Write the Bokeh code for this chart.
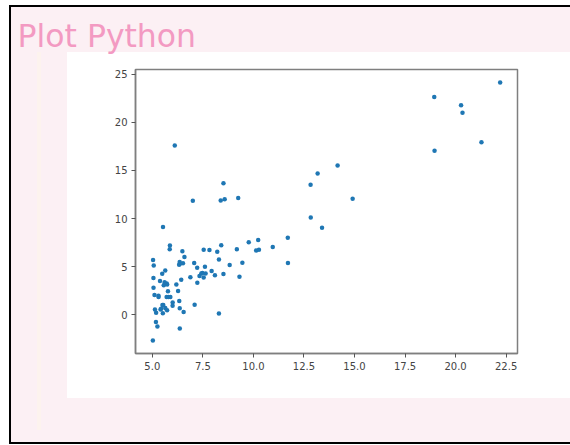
from bokeh.plotting import figure
from bokeh.models import FixedTicker, Range1d, ColumnDataSource
from bokeh.embed import file_html
from bokeh.resources import INLINE

# Population of city (10,000s) vs profit (10,000$)
population = [6.1101, 5.5277, 8.5186, 7.0032, 5.8598, 8.3829, 7.4764, 8.5781, 6.4862, 5.0546,
              5.7107, 14.164, 5.734, 8.4084, 5.6407, 5.3794, 6.3654, 5.1301, 6.4296, 7.0708,
              6.1891, 20.27, 5.4901, 6.3261, 5.5649, 18.945, 12.828, 10.957, 13.176, 22.203,
              5.2524, 6.5894, 9.2482, 5.8918, 8.2111, 7.9334, 8.0959, 5.6063, 12.836, 6.3534,
              5.4069, 6.8825, 11.708, 5.7737, 7.8247, 7.0931, 5.0702, 5.8014, 11.7, 5.5416,
              7.5402, 5.3077, 7.4239, 7.6031, 6.3328, 6.3589, 6.2742, 5.6397, 9.3102, 9.4536,
              8.8254, 5.1793, 21.279, 14.908, 18.959, 7.2182, 8.2951, 10.236, 5.4994, 20.341,
              10.136, 7.3345, 6.0062, 7.2259, 5.0269, 6.5479, 7.5386, 5.0365, 10.274, 5.1077,
              5.7292, 5.1884, 6.3557, 9.7687, 6.5159, 8.5172, 9.1802, 6.002, 5.5204, 5.0594,
              5.7077, 7.6366, 5.8707, 5.3054, 8.2934, 13.394, 5.4369]
profit = [17.592, 9.1302, 13.662, 11.854, 6.8233, 11.886, 4.3483, 12.0, 6.5987, 3.8166,
          3.2522, 15.505, 3.1551, 7.2258, 0.71618, 3.5129, 5.3048, 0.56077, 3.6518, 5.3893,
          3.1386, 21.767, 4.263, 5.1875, 3.0825, 22.638, 13.501, 7.0467, 14.692, 24.147,
          -1.22, 5.9966, 12.134, 1.8495, 6.5426, 4.5623, 4.1164, 3.3928, 10.117, 5.4974,
          0.55657, 3.9115, 5.3854, 2.4406, 6.7318, 1.0463, 5.1337, 1.844, 8.0043, 1.0179,
          6.7504, 1.8396, 4.2885, 4.9981, 1.4233, -1.4211, 2.4756, 4.6042, 3.9624, 5.4141,
          5.1694, -0.74279, 17.929, 12.054, 17.054, 4.8852, 5.7442, 7.7754, 1.0173, 20.992,
          6.6799, 4.0259, 1.2784, 3.3411, -2.6807, 0.29678, 3.8845, 5.7014, 6.7526, 2.0576,
          0.47953, 0.20421, 0.67861, 7.5435, 5.3436, 4.2415, 6.7981, 0.92695, 0.152, 2.8214,
          1.8451, 4.2959, 7.2029, 1.9869, 0.14454, 9.0551, 0.61705]

x_ticks = [5.0, 7.5, 10.0, 12.5, 15.0, 17.5, 20.0, 22.5]
y_ticks = [0, 5, 10, 15, 20, 25]
title_text = "Plot Python"

# matplotlib-style 5% margins
xmin, xmax = min(population), max(population)
ymin, ymax = min(profit), max(profit)
xm = 0.05 * (xmax - xmin)
ym = 0.05 * (ymax - ymin)

PINK = "#fcf0f4"
STRIP = "#fdf3ee"
W, H = 570, 445

p = figure(width=W, height=H, output_backend="svg", toolbar_location=None,
           x_range=Range1d(xmin - xm, xmax + xm), y_range=Range1d(ymin - ym, ymax + ym),
           min_border_left=135, min_border_right=53, min_border_top=69, min_border_bottom=92,
           title=title_text)

# page decoration behind a transparent canvas: border, pink panel, strip, white picture area
p.border_fill_color = None
p.background_fill_color = "white"
p.styles = {
    "background-color": "white",
    "background-image": ", ".join(["linear-gradient(black, black)"] * 3 + [
        "linear-gradient(white, white)",
        f"linear-gradient({STRIP}, {STRIP})",
        f"linear-gradient({PINK}, {PINK})"]),
    "background-size": "561px 2px, 2px 439px, 561px 2px, 503px 346px, 4px 378px, 559px 435px",
    "background-position": "9px 5px, 9px 5px, 9px 442px, 67px 52px, 37px 52px, 11px 7px",
    "background-repeat": "no-repeat",
}

p.title.text_font = "DejaVu Sans"
p.title.text_font_size = "31.5px"
p.title.text_font_style = "normal"
p.title.text_color = "#f39ac2"
p.title.align = "left"
p.title.offset = -118
p.title.standoff = 31

p.outline_line_color = "#7f7f7f"
p.outline_line_width = 1.5
p.grid.visible = False

src = ColumnDataSource(dict(x=population, y=profit))
p.scatter("x", "y", source=src, size=4.5, fill_color="#1f77b4", line_color=None)

for ax in (p.xaxis[0], p.yaxis[0]):
    ax.axis_line_color = "#7f7f7f"
    ax.axis_line_width = 1.5
    ax.major_tick_line_color = "#555555"
    ax.major_tick_in = 0
    ax.major_tick_out = 4
    ax.minor_tick_line_color = None
    ax.major_label_text_font = "DejaVu Sans"
    ax.major_label_text_font_size = "10px"
    ax.major_label_text_color = "#444444"
    ax.major_label_standoff = 4

p.xaxis[0].ticker = FixedTicker(ticks=x_ticks)
p.xaxis[0].major_label_overrides = {t: f"{t:.1f}" for t in x_ticks}
p.yaxis[0].ticker = FixedTicker(ticks=y_ticks)
p.yaxis[0].major_label_overrides = {t: str(t) for t in y_ticks}

open("out.html", "w").write(file_html(p, INLINE))
